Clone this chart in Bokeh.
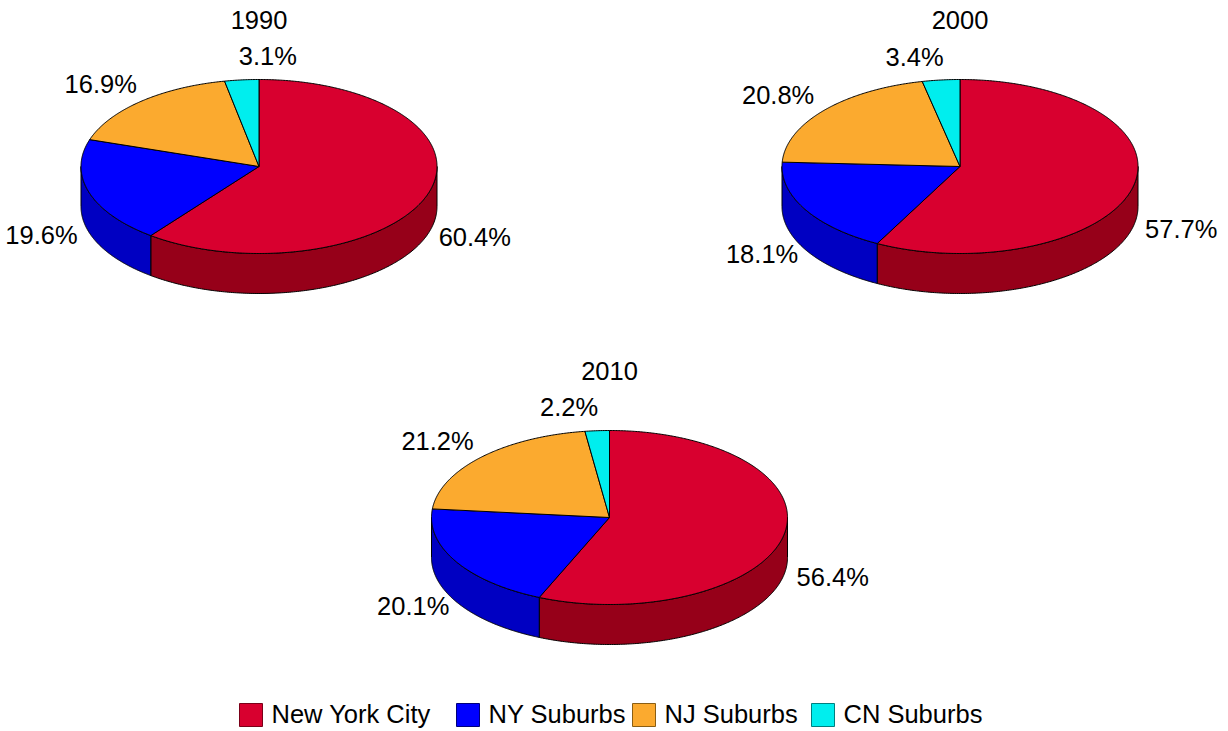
import numpy as np
from bokeh.plotting import figure
from bokeh.models import Range1d, ColumnDataSource
from bokeh.core.properties import value
from bokeh.embed import file_html
from bokeh.resources import INLINE

# ---------------- data ----------------
categories = ["New York City", "NY Suburbs", "NJ Suburbs", "CN Suburbs"]
years = ["1990", "2000", "2010"]
share_1990 = [60.4, 19.6, 16.9, 3.1]
share_2000 = [57.7, 18.1, 20.8, 3.4]
share_2010 = [56.4, 20.1, 21.2, 2.2]
shares = [share_1990, share_2000, share_2010]

# ---------------- style / layout ----------------
top_colors = ["#D8002F", "#0000FF", "#FBAA2F", "#00EEEE"]
side_colors = ["#960019", "#0000C2", "#B57A22", "#00AAAA"]
legend_edges = ["#7A0018", "#00007A", "#8A5E14", "#007F7F"]
centers = [(258.5, 166.0), (959.5, 166.0), (609.0, 517.0)]
RX, RY, DEPTH = 178.0, 87.0, 40.0
FONT = "Liberation Sans"
FS = "25.5px"
TXT_DY = -10          # baseline correction of the svg text
small_label_dx = [32, -20, -24]   # nudge of the smallest-slice label
legend_left = [239, 456, 632, 811]
legend_y = 714.5
SQ = 23

W, H = 1228, 731
p = figure(width=W, height=H, x_range=Range1d(0, W), y_range=Range1d(H, 0),
           output_backend="svg", toolbar_location=None, min_border=0,
           x_axis_type=None, y_axis_type=None)
p.grid.visible = False
p.outline_line_color = None
p.background_fill_color = "white"


def ell(cx, cy, t):
    r = np.radians(t)
    return cx + RX * np.sin(r), cy - RY * np.cos(r)


wall_xs, wall_ys, wall_c = [], [], []
top_xs, top_ys, top_c = [], [], []
lab_x, lab_y, lab_t = [], [], []
title_x, title_y = [], []

for k, (vals, (cx, cy)) in enumerate(zip(shares, centers)):
    total = float(sum(vals))
    bounds = np.concatenate([[0.0], np.cumsum(vals) / total * 360.0])
    for i, v in enumerate(vals):
        a, b = bounds[i], bounds[i + 1]
        # side wall (front half only: 90..270 deg clockwise from top)
        lo, hi = max(a, 90.0), min(b, 270.0)
        if hi > lo:
            t = np.linspace(lo, hi, 200)
            x, y = ell(cx, cy, t)
            wall_xs.append(list(x) + list(x[::-1]))
            wall_ys.append(list(y) + list((y + DEPTH)[::-1]))
            wall_c.append(side_colors[i])
        # top face
        t = np.linspace(a, b, max(int((b - a) * 2), 8))
        x, y = ell(cx, cy, t)
        top_xs.append([cx] + list(x))
        top_ys.append([cy] + list(y))
        top_c.append(top_colors[i])
        # label
        m = np.radians((a + b) / 2)
        s, c = np.sin(m), np.cos(m)
        if c < 0:
            lx = cx + RX * 1.28 * s
            ly = cy - RY * 1.1 * c + 41
        else:
            lx = cx + RX * 1.34 * s
            ly = cy - RY * 1.26 * c
        if i == len(vals) - 1:
            lx += small_label_dx[k]
        lab_x.append(lx)
        lab_y.append(ly + 9 + TXT_DY)
        lab_t.append(f"{v:.1f}%")
    title_x.append(cx)
    title_y.append(cy - 137 + TXT_DY)

p.patches(xs="xs", ys="ys", fill_color="c", line_color="black", line_width=1,
          source=ColumnDataSource(dict(xs=wall_xs, ys=wall_ys, c=wall_c)))
p.patches(xs="xs", ys="ys", fill_color="c", line_color="black", line_width=1,
          source=ColumnDataSource(dict(xs=top_xs, ys=top_ys, c=top_c)))

p.text(x=lab_x, y=lab_y, text=lab_t, text_align="center", text_baseline="alphabetic",
       text_font=value(FONT), text_font_size=FS, text_color="black")
p.text(x=title_x, y=title_y, text=years, text_align="center", text_baseline="alphabetic",
       text_font=value(FONT), text_font_size=FS, text_color="black")

# legend
sq_x = [l + SQ / 2 for l in legend_left]
p.rect(x=sq_x, y=[legend_y] * 4, width=SQ, height=SQ, fill_color=top_colors,
       line_color=legend_edges, line_width=1)
p.text(x=[l + SQ + 9 for l in legend_left], y=[legend_y + 9 + TXT_DY] * 4, text=categories,
       text_align="left", text_baseline="alphabetic",
       text_font=value(FONT), text_font_size=FS, text_color="black")

open("out.html", "w").write(file_html(p, INLINE))
